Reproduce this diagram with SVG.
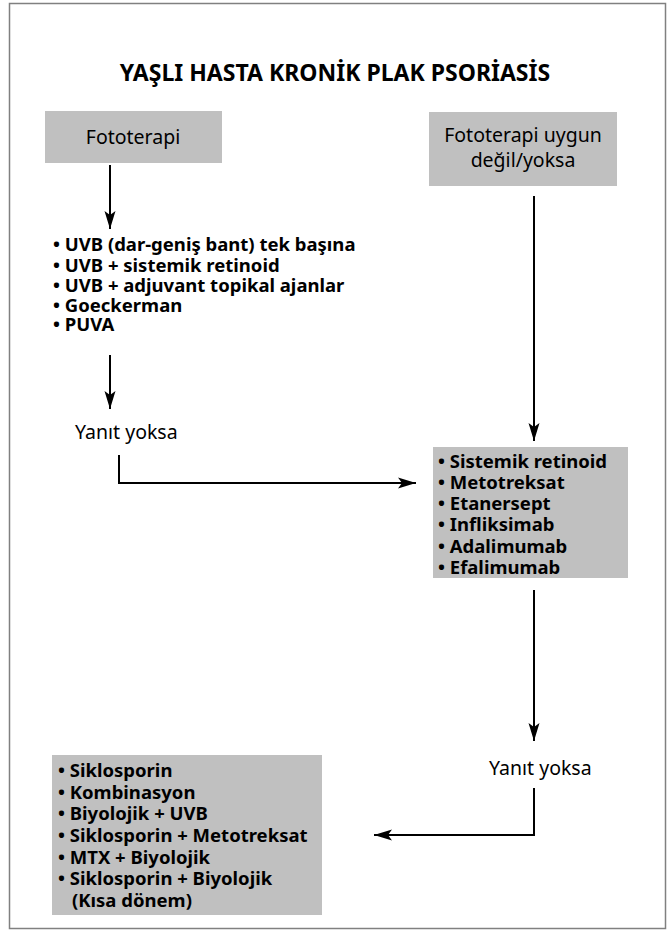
<svg xmlns="http://www.w3.org/2000/svg" width="671" height="942" viewBox="0 0 671 942">
<defs>
<marker id="ah" markerUnits="userSpaceOnUse" markerWidth="20" markerHeight="12" refX="18" refY="6" orient="auto">
<path d="M0,0.5 L18,6 L0,11.5 L4,6 Z" fill="#000"/>
</marker>
</defs>
<style>
.box{fill:#c0c0c0}
.t{font-family:"Noto Sans","Open Sans","DejaVu Sans",sans-serif;font-size:19.5px;fill:#000}
.b{font-weight:bold;font-size:18.5px}
.title{font-family:"Noto Sans","Open Sans","DejaVu Sans",sans-serif;font-size:23px;font-weight:bold;fill:#000}
.c{fill:none;stroke:#000;stroke-width:2}
</style>
<rect x="9.5" y="3.5" width="656" height="925" fill="#fff" stroke="#808080" stroke-width="1.5"/>
<text class="title" x="335" y="81" text-anchor="middle">YAŞLI HASTA KRONİK PLAK PSORİASİS</text>
<g id="n1">
<rect class="box" x="45" y="111" width="177" height="52"/>
<text class="t" x="133" y="144" text-anchor="middle">Fototerapi</text>
</g>
<g id="n2">
<rect class="box" x="429" y="112" width="188" height="74"/>
<text class="t" x="523" y="142" text-anchor="middle">Fototerapi uygun</text>
<text class="t" x="523" y="167" text-anchor="middle">değil/yoksa</text>
</g>
<g id="n3">
<text class="t b" x="53" y="251">• UVB (dar-geniş bant) tek başına</text>
<text class="t b" x="53" y="272">• UVB + sistemik retinoid</text>
<text class="t b" x="53" y="292">• UVB + adjuvant topikal ajanlar</text>
<text class="t b" x="53" y="312">• Goeckerman</text>
<text class="t b" x="53" y="331">• PUVA</text>
</g>
<g id="n4">
<text class="t" x="75" y="439">Yanıt yoksa</text>
</g>
<g id="n5">
<rect class="box" x="433" y="447" width="195" height="131"/>
<text class="t b" x="438" y="468">• Sistemik retinoid</text>
<text class="t b" x="438" y="489">• Metotreksat</text>
<text class="t b" x="438" y="510">• Etanersept</text>
<text class="t b" x="438" y="531">• Infliksimab</text>
<text class="t b" x="438" y="553">• Adalimumab</text>
<text class="t b" x="438" y="574">• Efalimumab</text>
</g>
<g id="n6">
<text class="t" x="489" y="775">Yanıt yoksa</text>
</g>
<g id="n7">
<rect class="box" x="52" y="755" width="270" height="160"/>
<text class="t b" x="58" y="777">• Siklosporin</text>
<text class="t b" x="58" y="799">• Kombinasyon</text>
<text class="t b" x="58" y="820">• Biyolojik + UVB</text>
<text class="t b" x="58" y="842">• Siklosporin + Metotreksat</text>
<text class="t b" x="58" y="864">• MTX + Biyolojik</text>
<text class="t b" x="58" y="885">• Siklosporin + Biyolojik</text>
<text class="t b" x="72" y="907">(Kısa dönem)</text>
</g>
<g id="connectors">
<line class="c" x1="110" y1="165" x2="110" y2="229" marker-end="url(#ah)"/>
<line class="c" x1="110" y1="355" x2="110" y2="409" marker-end="url(#ah)"/>
<polyline class="c" points="119,455 119,483 416,483" marker-end="url(#ah)"/>
<line class="c" x1="534" y1="196" x2="534" y2="441" marker-end="url(#ah)"/>
<line class="c" x1="534" y1="590" x2="534" y2="741" marker-end="url(#ah)"/>
<polyline class="c" points="534,788 534,835 374,835" marker-end="url(#ah)"/>
</g>
</svg>
